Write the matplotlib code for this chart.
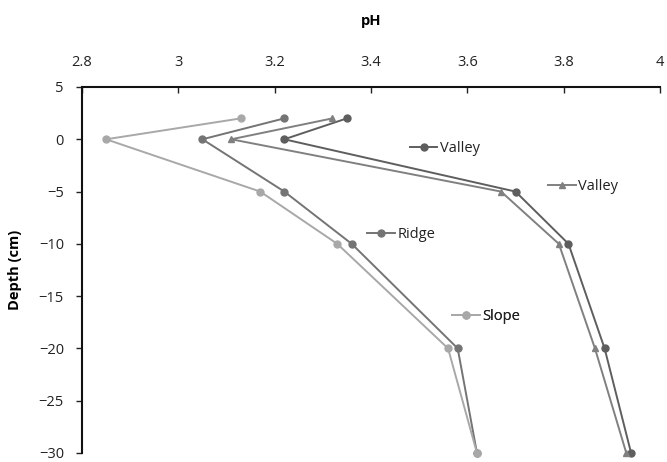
import matplotlib
matplotlib.use("Agg")
import matplotlib.pyplot as plt
from matplotlib.lines import Line2D

depth = [2, 0, -5, -10, -20, -30]
valley1 = [3.35, 3.22, 3.70, 3.81, 3.885, 3.94]
valley2 = [3.32, 3.11, 3.67, 3.79, 3.865, 3.93]
ridge = [3.22, 3.05, 3.22, 3.36, 3.58, 3.62]
slope = [3.13, 2.85, 3.17, 3.33, 3.56, 3.62]

series_names = ["Valley", "Valley", "Ridge", "Slope"]
xticks = [2.8, 3, 3.2, 3.4, 3.6, 3.8, 4]
xticklabels = ["2.8", "3", "3.2", "3.4", "3.6", "3.8", "4"]
yticks = [5, 0, -5, -10, -15, -20, -25, -30]

plt.rcParams['font.family'] = ['Open Sans', 'DejaVu Sans']

fig = plt.figure(figsize=(6.67, 4.62), dpi=100)
ax = fig.add_axes([82/667, 9/462, (660-82)/667, (453-87)/462])

styles = [
    dict(color="#5e5e5e", marker="o", ms=5),
    dict(color="#808080", marker="^", ms=4.5),
    dict(color="#747474", marker="o", ms=5),
    dict(color="#a8a8a8", marker="o", ms=5),
]
data = [valley1, valley2, ridge, slope]
for vals, st in zip(data, styles):
    ax.plot(vals, depth, color=st["color"], marker=st["marker"], ms=st["ms"],
            lw=1.4, clip_on=False, zorder=3)

ax.set_xlim(2.8, 4)
ax.set_ylim(-30, 5)
ax.xaxis.tick_top()
ax.xaxis.set_label_position("top")
ax.set_xticks(xticks)
ax.set_xticklabels(xticklabels)
ax.set_yticks(yticks)
ax.tick_params(axis="x", direction="in", length=4, width=1, labelsize=10.5, pad=12, colors="#222222")
ax.tick_params(axis="y", direction="out", length=4, width=1, labelsize=10.5, pad=9, colors="#222222")
ax.set_xlabel("pH", fontsize=10.5, fontweight="bold", labelpad=22)
ax.set_ylabel("Depth (cm)", fontsize=10.5, fontweight="bold", labelpad=12)
for s in ["bottom", "right"]:
    ax.spines[s].set_visible(False)
for s in ["top", "left"]:
    ax.spines[s].set_linewidth(1.5)
    ax.spines[s].set_color("#111111")

# in-plot labels (legend entries)
positions = [(0.567, 0.833), (0.806, 0.727), (0.493, 0.596), (0.64, 0.374)]
for name, st, (px, py) in zip(series_names, styles, positions):
    h = Line2D([], [], color=st["color"], marker=st["marker"], ms=st["ms"], lw=1.4)
    leg = ax.legend([h], [name], loc="center left", bbox_to_anchor=(px, py),
                    frameon=False, fontsize=10.5, handlelength=1.9, handletextpad=0.2,
                    borderpad=0, borderaxespad=0)
    for t in leg.get_texts():
        t.set_color("#222222")
    ax.add_artist(leg)

fig.savefig("out.png", dpi=100)
